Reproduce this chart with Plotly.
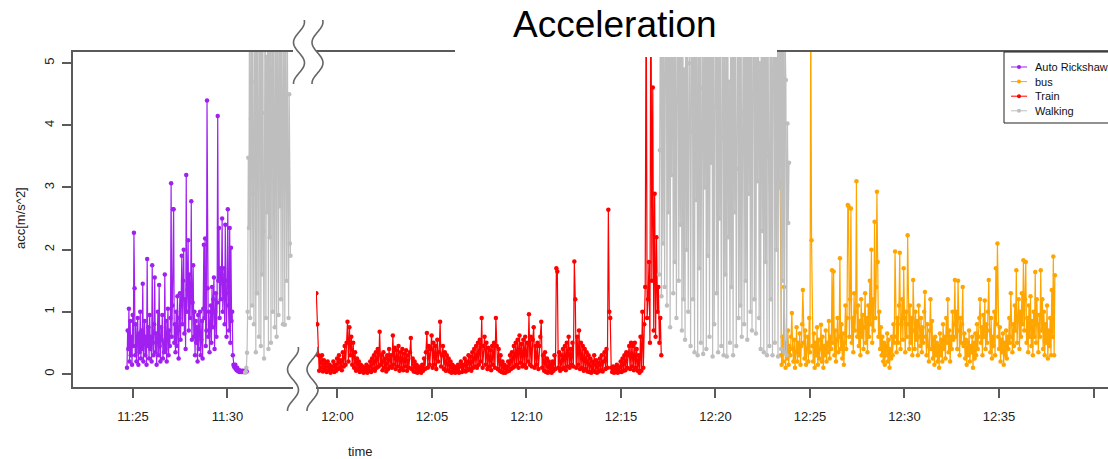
import numpy as np
import pandas as pd
import plotly.graph_objects as go

day = "2019-03-05 "

# acceleration samples [m/s^2] per transport mode, with start time and sample step (s)
auto_start, auto_step = "11:24:41", 2
auto_acc = [0.1, 0.7, 0.4, 1.05, 0.2, 0.85, 0.3, 0.6, 0.15, 0.95,
            0.45, 2.27, 1.38, 0.3, 0.8, 0.2, 0.55, 0.9, 0.15, 0.65,
            0.35, 1.0, 0.25, 0.7, 0.4, 1.45, 0.2, 0.5, 0.85, 0.3,
            0.6, 0.15, 1.85, 0.45, 0.75, 0.25, 0.95, 0.4, 0.6, 0.2,
            1.75, 0.5, 0.3, 0.8, 1.55, 0.35, 0.65, 0.15, 0.55, 1.0,
            0.3, 1.43, 0.45, 0.2, 0.75, 0.55, 0.95, 0.25, 0.5, 0.35,
            1.6, 0.4, 0.85, 0.2, 0.6, 1.05, 0.3, 0.7, 0.45, 0.9,
            3.07, 0.6, 1.1, 2.65, 2.65, 0.5, 0.8, 0.35, 1.0, 0.45,
            1.25, 0.7, 0.25, 0.9, 1.3, 0.55, 1.1, 1.9, 0.8, 1.5,
            2.0, 0.65, 1.2, 0.4, 3.2, 1.0, 1.35, 2.15, 0.7, 1.6,
            0.9, 1.3, 2.78, 0.55, 1.15, 1.75, 0.6, 1.0, 0.3, 0.85,
            0.5, 0.75, 0.2, 0.95, 0.4, 0.65, 1.0, 0.3, 0.55, 0.85,
            0.25, 1.05, 2.08, 0.9, 2.18, 0.45, 0.7, 4.4, 1.38, 0.6,
            1.0, 0.35, 0.8, 1.1, 0.5, 1.4, 0.75, 1.2, 1.55, 0.4,
            1.0, 1.3, 0.6, 1.15, 4.15, 1.5, 2.35, 0.9, 1.7, 1.2,
            1.6, 2.5, 1.0, 1.45, 1.7, 0.8, 2.4, 1.3, 0.6, 1.5,
            2.65, 1.1, 0.7, 2.35, 0.5, 2.03, 0.85, 1.0, 0.3, 0.15,
            0.12, 0.1, 0.15, 0.08, 0.06, 0.1, 0.05, 0.04, 0.06, 0.03,
            0.05, 0.04, 0.03, 0.05, 0.04, 0.03, 0.05, 0.04, 0.03, 0.05, 0.04]

walk1_start, walk1_step = "11:30:56", 2
walk1_acc = [0.02, 0.04, 0.1, 0.34, 1.0, 3.48, 2.35, 6.5, 0.9, 4.1,
             7.2, 1.1, 5.8, 2.9, 0.8, 6.4, 4.7, 0.35, 6.9, 1.3,
             8.0, 3.6, 0.6, 5.2, 7.5, 0.45, 5.5, 1.6, 6.8, 2.3,
             0.25, 4.2, 7.9, 0.9, 5.1, 2.6, 6.3, 0.4, 7.0, 2.2,
             5.9, 0.5, 4.9, 8.3, 1.0, 6.1, 3.1, 0.75, 7.7, 3.7,
             0.6, 7.4, 4.4, 0.95, 5.6, 2.7, 7.1, 1.2, 6.0, 3.9,
             0.8, 6.6, 4.2, 0.79, 7.3, 3.6, 1.5, 5.7, 3.4, 0.9,
             4.5, 2.1, 1.9]

train_start, train_step = "11:58:53", 3
train_acc = [1.3, 0.8, 0.3, 0.05, 0.28, 0.1, 0.3, 0.04, 0.22, 0.08,
             0.18, 0.03, 0.2, 0.06, 0.15, 0.02, 0.12, 0.05, 0.2, 0.03,
             0.15, 0.05, 0.25, 0.08, 0.3, 0.1, 0.22, 0.06, 0.35, 0.12,
             0.45, 0.15, 0.5, 0.84, 0.2, 0.75, 0.3, 0.6, 0.15, 0.5,
             0.1, 0.35, 0.05, 0.25, 0.08, 0.2, 0.03, 0.15, 0.05, 0.12,
             0.02, 0.1, 0.04, 0.15, 0.02, 0.12, 0.05, 0.2, 0.03, 0.25,
             0.08, 0.3, 0.05, 0.35, 0.1, 0.4, 0.12, 0.68, 0.15, 0.3,
             0.06, 0.35, 0.1, 0.25, 0.04, 0.3, 0.08, 0.4, 0.12, 0.3,
             0.1, 0.62, 0.15, 0.42, 0.08, 0.38, 0.12, 0.45, 0.05, 0.35,
             0.1, 0.4, 0.06, 0.33, 0.12, 0.38, 0.05, 0.3, 0.1, 0.35,
             0.58, 0.08, 0.25, 0.04, 0.2, 0.03, 0.15, 0.02, 0.12, 0.04,
             0.1, 0.02, 0.15, 0.05, 0.25, 0.08, 0.35, 0.66, 0.1, 0.45,
             0.15, 0.4, 0.62, 0.1, 0.5, 0.15, 0.45, 0.08, 0.55, 0.2,
             0.35, 0.84, 0.12, 0.3, 0.45, 0.08, 0.35, 0.05, 0.3, 0.06,
             0.25, 0.04, 0.2, 0.02, 0.15, 0.03, 0.12, 0.02, 0.1, 0.04,
             0.15, 0.02, 0.12, 0.2, 0.03, 0.15, 0.05, 0.25, 0.04, 0.2,
             0.06, 0.3, 0.08, 0.28, 0.05, 0.35, 0.1, 0.4, 0.12, 0.45,
             0.1, 0.5, 0.15, 0.55, 0.2, 0.9, 0.1, 0.45, 0.6, 0.15,
             0.5, 0.08, 0.42, 0.12, 0.38, 0.06, 0.45, 0.15, 0.5, 0.1,
             0.9, 0.45, 0.08, 0.4, 0.05, 0.3, 0.03, 0.2, 0.02, 0.15,
             0.02, 0.12, 0.04, 0.2, 0.05, 0.3, 0.08, 0.35, 0.1, 0.45,
             0.12, 0.5, 0.15, 0.55, 0.1, 0.62, 0.18, 0.48, 0.12, 0.55,
             0.15, 0.6, 0.1, 0.5, 0.2, 0.96, 0.15, 0.6, 0.12, 0.55,
             0.75, 0.1, 0.45, 0.15, 0.5, 0.08, 0.45, 0.6, 0.84, 0.1,
             0.3, 0.05, 0.35, 0.03, 0.25, 0.02, 0.2, 0.04, 0.15, 0.02,
             0.2, 0.05, 0.3, 0.08, 1.7, 1.65, 0.1, 0.35, 0.05, 0.3,
             0.08, 0.4, 0.1, 0.45, 0.06, 0.5, 0.12, 0.6, 0.1, 0.4,
             0.15, 0.5, 0.12, 1.81, 1.2, 0.1, 0.6, 0.15, 0.7, 0.08,
             0.5, 0.1, 0.45, 0.05, 0.4, 0.08, 0.35, 0.04, 0.3, 0.03,
             0.25, 0.02, 0.2, 0.05, 0.3, 0.03, 0.22, 0.02, 0.18, 0.04,
             0.25, 0.06, 0.3, 0.04, 0.2, 0.35, 0.08, 0.4, 0.1, 2.64,
             1.0, 0.9, 0.1, 0.03, 0.12, 0.02, 0.1, 0.03, 0.15, 0.02,
             0.12, 0.04, 0.2, 0.03, 0.25, 0.05, 0.3, 0.06, 0.35, 0.1,
             0.3, 0.45, 0.08, 0.5, 0.12, 0.45, 0.06, 0.5, 0.1, 0.4,
             0.05, 0.3, 0.02, 0.6, 0.05, 1.0, 0.1, 0.8, 1.4, 6.5,
             0.9, 1.2, 1.8, 0.5, 7.2, 1.5, 4.61, 0.7, 2.9, 0.6,
             2.2, 1.0, 1.4, 0.5, 0.9, 0.3]

walk2_start, walk2_step = "12:17:01", 2.5
walk2_acc = [1.6, 3.6, 6.8, 1.25, 5.9, 2.1, 7.5, 1.4, 4.8, 8.2,
             1.1, 6.1, 2.6, 7.9, 0.75, 5.4, 3.2, 8.6, 1.3, 6.6,
             1.8, 7.1, 0.9, 4.4, 8.0, 1.5, 5.7, 2.4, 6.9, 0.7,
             7.6, 1.2, 4.9, 0.55, 8.4, 2.0, 6.2, 1.0, 5.0, 7.3,
             0.45, 3.9, 8.1, 1.2, 6.4, 0.35, 7.8, 2.8, 5.3, 0.3,
             6.7, 1.7, 8.5, 0.5, 4.6, 7.0, 0.32, 5.8, 3.0, 7.7,
             0.4, 6.0, 1.9, 8.3, 0.6, 5.2, 3.4, 7.2, 0.28, 6.5,
             0.8, 4.3, 8.0, 1.3, 5.6, 0.35, 7.4, 2.5, 6.3, 0.45,
             3.8, 7.9, 0.3, 5.1, 1.6, 6.8, 0.28, 8.2, 2.2, 4.7,
             0.5, 7.0, 1.4, 5.5, 0.3, 8.4, 2.6, 6.2, 0.45, 3.3,
             7.5, 0.9, 5.9, 1.1, 8.1, 0.6, 4.2, 6.6, 0.8, 7.3,
             1.5, 5.4, 0.55, 8.0, 2.9, 6.1, 1.0, 7.6, 0.7, 4.5,
             8.3, 1.2, 5.8, 0.65, 6.9, 3.1, 7.9, 0.9, 5.0, 0.4,
             8.6, 2.3, 6.4, 0.35, 7.2, 1.8, 5.3, 0.3, 8.0, 3.5,
             0.45, 6.7, 1.2, 7.7, 0.3, 4.9, 8.2, 0.5, 6.0, 2.0,
             7.4, 0.28, 5.6, 3.0, 8.5, 0.4, 6.3, 1.5, 7.0, 0.35,
             5.4, 4.73, 0.3, 4.03, 2.43, 3.4]

bus_start, bus_step = "12:23:25", 2.5
bus_acc = [3.09, 0.3, 0.15, 0.6, 0.2, 1.4, 0.35, 0.1, 0.5, 0.25,
           0.7, 0.15, 0.45, 0.3, 0.6, 0.98, 0.4, 0.2, 0.55, 0.1,
           0.35, 0.75, 0.2, 0.5, 0.3, 0.65, 0.15, 0.45, 0.8, 1.35,
           0.5, 0.25, 0.7, 0.15, 0.4, 0.6, 0.2, 0.9, 0.35, 6.0,
           2.15, 0.45, 0.2, 0.65, 0.1, 0.5, 0.3, 0.75, 0.15, 0.55,
           0.25, 0.4, 0.79, 0.2, 0.6, 0.1, 0.45, 0.3, 0.7, 0.2,
           0.5, 0.35, 0.85, 0.25, 0.6, 0.4, 1.67, 0.5, 1.65, 0.3,
           0.7, 0.2, 0.55, 0.9, 0.35, 0.6, 1.86, 0.4, 0.8, 0.25,
           0.65, 0.15, 0.5, 1.1, 0.4, 0.9, 2.72, 2.7, 0.6, 1.2,
           2.66, 0.5, 0.9, 0.35, 1.3, 0.7, 1.0, 3.1, 0.6, 1.1,
           0.45, 0.85, 0.3, 1.2, 0.6, 0.95, 0.4, 0.75, 1.3, 0.5,
           0.9, 0.35, 1.1, 0.6, 1.5, 0.8, 2.0, 0.5, 1.2, 0.7,
           2.45, 0.9, 1.4, 2.93, 1.8, 0.6, 1.0, 0.4, 0.75, 0.3,
           0.6, 0.2, 0.5, 0.15, 0.45, 0.3, 0.65, 0.2, 0.55, 0.1,
           0.4, 0.25, 0.6, 0.3, 0.8, 0.5, 1.97, 0.6, 0.35, 0.9,
           0.5, 1.1, 1.95, 0.4, 0.8, 1.2, 0.55, 1.7, 0.9, 0.35,
           1.0, 0.6, 2.23, 0.8, 0.4, 1.1, 0.5, 0.9, 0.3, 1.51,
           0.7, 0.4, 1.0, 0.55, 0.85, 0.3, 1.1, 0.6, 0.45, 0.9,
           0.35, 0.75, 0.5, 1.0, 1.32, 0.6, 0.3, 0.8, 0.45, 0.2,
           0.7, 1.2, 0.4, 0.85, 0.25, 0.55, 0.15, 0.6, 0.3, 0.5,
           0.2, 0.45, 0.1, 0.65, 0.3, 0.55, 0.2, 0.8, 0.4, 0.6,
           0.25, 0.9, 0.5, 1.2, 0.35, 0.7, 0.2, 0.6, 0.4, 1.0,
           0.55, 0.8, 1.51, 0.6, 1.0, 0.4, 1.5, 0.7, 0.3, 0.9,
           0.5, 0.8, 1.4, 0.45, 0.65, 0.25, 0.55, 0.15, 0.5, 0.3,
           0.7, 0.2, 0.45, 0.35, 0.6, 0.1, 0.5, 0.25, 0.65, 0.3,
           0.8, 0.4, 0.6, 0.9, 1.2, 0.5, 0.75, 0.3, 0.95, 0.6,
           1.18, 0.4, 0.8, 0.5, 1.0, 1.51, 0.7, 0.35, 0.9, 0.25,
           0.6, 0.45, 1.0, 0.3, 1.7, 0.8, 2.1, 0.6, 0.4, 0.75,
           0.2, 0.55, 0.35, 0.65, 0.15, 0.5, 0.3, 0.7, 0.25, 0.6,
           0.4, 0.9, 0.5, 1.3, 0.6, 0.35, 0.8, 0.45, 1.1, 0.7,
           1.67, 0.5, 0.9, 1.2, 0.4, 1.0, 0.6, 1.3, 0.8, 1.83,
           0.7, 1.2, 1.8, 0.5, 0.9, 0.35, 1.1, 0.6, 1.25, 0.45,
           0.85, 0.3, 1.0, 0.6, 1.64, 0.5, 1.2, 0.8, 0.35, 0.95,
           0.6, 1.67, 0.7, 1.2, 0.4, 1.0, 0.3, 0.8, 0.5, 1.1,
           0.25, 0.7, 0.45, 0.9, 0.3, 1.35, 0.6, 1.89, 0.3, 1.59]

modes = ["Auto Rickshaw", "bus", "Train", "Walking"]
colors = {"Auto Rickshaw": "#A020F0", "bus": "#FFA500", "Train": "#FF0000", "Walking": "#BEBEBE"}

# (mode, start, step, values, x axis) -- left panel before the break, right panel after
segments = [
    ("Auto Rickshaw", auto_start, auto_step, auto_acc, "x"),
    ("Train", train_start, train_step, train_acc, "x2"),
    ("bus", bus_start, bus_step, bus_acc, "x2"),
    ("Walking", walk1_start, walk1_step, walk1_acc, "x"),
    ("Walking", walk2_start, walk2_step, walk2_acc, "x2"),
]

# pixel helpers for the decorations (plot area 73..1108 x 52..387)
L, R, T, B = 73, 1108, 52, 387
def xp(px):
    return (px - L) / (R - L)
def yp(py):
    return (B - py) / (B - T)

fig = go.Figure()
for mode, start, step, vals, xa in segments:
    t = pd.date_range(day + start, periods=len(vals), freq=f"{int(step * 1000)}ms")
    fig.add_trace(go.Scatter(
        x=t, y=vals, mode="lines+markers", xaxis=xa, yaxis="y",
        name=mode, showlegend=False,
        line=dict(color=colors[mode], width=1.2),
        marker=dict(color=colors[mode], size=4.5)))

axis_font = dict(family="Liberation Sans, Arial", size=13, color="#222")
line_col = "#5a5a5a"
xcommon = dict(type="date", tickformat="%H:%M", dtick=300000, ticks="outside", ticklen=9,
               tickcolor=line_col, tickwidth=1.5, showline=True, linecolor=line_col, linewidth=1.5,
               mirror=True, showgrid=False, zeroline=False, tickfont=axis_font, anchor="y",
               ticklabelstandoff=8)

fig.update_layout(
    width=1108, height=459,
    margin=dict(l=L, r=0, t=T, b=459 - B, autoexpand=False),
    paper_bgcolor="white", plot_bgcolor="white",
    showlegend=False,
    xaxis=dict(xcommon, domain=[0, xp(293)], tick0=day + "11:25:00",
               range=[day + "11:21:49.5", day + "11:33:28"]),
    xaxis2=dict(xcommon, domain=[xp(316), 1], tick0=day + "12:00:00",
                range=[day + "11:58:52", day + "12:40:46"]),
    yaxis=dict(range=[-0.21, 5.18], tickvals=[0, 1, 2, 3, 4, 5], tickangle=-90,
               ticks="outside", ticklen=9, tickcolor=line_col, tickwidth=1.5,
               showline=True, linecolor=line_col, linewidth=1.5, showgrid=False,
               zeroline=False, tickfont=axis_font, anchor="x", ticklabelstandoff=3),
)

shapes = []
# white box behind the title
shapes.append(dict(type="rect", xref="paper", yref="paper", layer="above",
                   x0=xp(455), x1=xp(777), y0=yp(57), y1=yp(0),
                   fillcolor="white", line=dict(width=0)))

# axis break marks
def wave(cx, ytop, ybot, amp):
    pts = []
    for k in range(41):
        s = k / 40
        x = cx - amp * np.cos(2 * np.pi * (s - 0.35) / 0.64)
        y = ytop + s * (ybot - ytop)
        pts.append(f"{xp(x):.5f},{yp(y):.5f}")
    return "M " + " L ".join(pts)

for cx, y0, y1 in [(299, 20, 84), (317.5, 20, 84), (293, 347, 411), (312.5, 347, 411)]:
    shapes.append(dict(type="path", xref="paper", yref="paper", layer="above",
                       path=wave(cx, y0, y1, 5.5), line=dict(color="#666", width=1.6)))

# legend box (runs past the right edge)
shapes.append(dict(type="rect", xref="paper", yref="paper", layer="above",
                   x0=xp(1004), x1=xp(1140), y0=yp(123), y1=yp(52),
                   fillcolor="white", line=dict(color="#222", width=1)))
annotations = []
for k, mode in enumerate(modes):
    ry = 67 + k * 14.6
    shapes.append(dict(type="line", xref="paper", yref="paper", layer="above",
                       x0=xp(1011), x1=xp(1027), y0=yp(ry), y1=yp(ry),
                       line=dict(color=colors[mode], width=1)))
    shapes.append(dict(type="circle", xref="paper", yref="paper", layer="above",
                       x0=xp(1017), x1=xp(1021), y0=yp(ry + 2), y1=yp(ry - 2),
                       fillcolor=colors[mode], line=dict(width=0)))
    annotations.append(dict(xref="paper", yref="paper", x=xp(1033), y=yp(ry),
                            xanchor="left", yanchor="middle", showarrow=False, text=mode,
                            font=dict(family="Liberation Sans, Arial", size=11, color="#111")))

annotations.append(dict(xref="paper", yref="paper", x=xp(615), y=yp(25), text="Acceleration",
                        showarrow=False, xanchor="center", yanchor="middle",
                        font=dict(family="Liberation Sans, Arial", size=37, color="black")))
annotations.append(dict(xref="paper", yref="paper", x=xp(360), y=yp(451), text="time",
                        showarrow=False, xanchor="center", yanchor="middle",
                        font=dict(family="Liberation Sans, Arial", size=13, color="#222")))
annotations.append(dict(xref="paper", yref="paper", x=xp(20), y=yp(218), text="acc[m/s^2]",
                        showarrow=False, textangle=-90, xanchor="center", yanchor="middle",
                        font=dict(family="Liberation Sans, Arial", size=13, color="#222")))

fig.update_layout(shapes=shapes, annotations=annotations)
fig.write_html("out.html", config={"displayModeBar": False},
               post_script="document.body.style.margin='0px';")
